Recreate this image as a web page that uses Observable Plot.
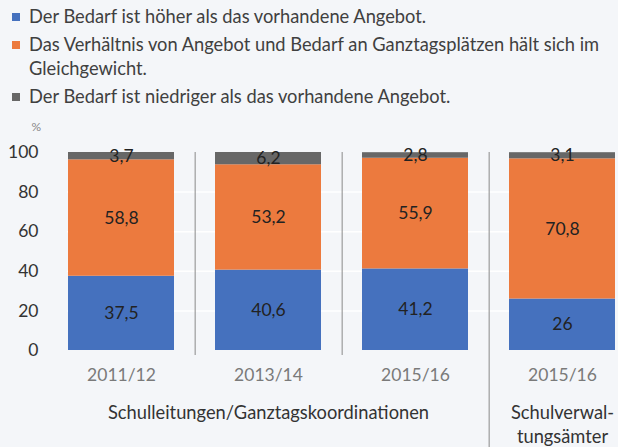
<!DOCTYPE html>
<html>
<head>
<meta charset="utf-8">
<script src="https://cdn.jsdelivr.net/npm/d3@7"></script>
<script src="https://cdn.jsdelivr.net/npm/@observablehq/plot@0.6"></script>
<style>
  html, body { margin: 0; padding: 0; background: #f4f6f9; }
  body { width: 618px; height: 447px; overflow: hidden; font-family: Lato, "Open Sans", sans-serif; }
  #legend { height: 108px; padding: 4px 0 0 0; box-sizing: border-box; color: #404040; font-size: 18.3px; }
  .item { display: flex; align-items: flex-start; line-height: 24px; margin-bottom: 4px; white-space: nowrap; }
  .sw { width: 8px; height: 8px; margin: 9px 9px 0 12px; flex: none; }
</style>
</head>
<body>
<div id="legend"></div>
<div id="chart"></div>
<script>
const seriesNames = [
  "Der Bedarf ist höher als das vorhandene Angebot.",
  "Das Verhältnis von Angebot und Bedarf an Ganztagsplätzen hält sich im\nGleichgewicht.",
  "Der Bedarf ist niedriger als das vorhandene Angebot."
];
const seriesColors = ["#4571be", "#ec7a3e", "#676767"];
const years = ["2011/12", "2013/14", "2015/16", "2015/16"];
const groupNames = ["Schulleitungen/Ganztagskoordinationen", "Schulverwal-\ntungsämter"];
const hoeher = [37.5, 40.6, 41.2, 26];
const gleich = [58.8, 53.2, 55.9, 70.8];
const niedriger = [3.7, 6.2, 2.8, 3.1];
const yTicks = [0, 20, 40, 60, 80, 100];

// legend
const legend = document.getElementById("legend");
seriesNames.forEach((n, i) => {
  const it = document.createElement("div");
  it.className = "item";
  const sw = document.createElement("span");
  sw.className = "sw";
  sw.style.background = seriesColors[i];
  const tx = document.createElement("span");
  tx.innerHTML = n.replace("\n", "<br>");
  it.appendChild(sw); it.appendChild(tx);
  legend.appendChild(it);
});

const valueSeries = [hoeher, gleich, niedriger];
const data = [];
years.forEach((y, i) => {
  valueSeries.forEach((vals, s) => {
    data.push({idx: i, series: seriesNames[s], s, value: vals[i]});
  });
});

const W = 618, H = 339, ML = 67, MR = 3, MT = 44, MB = 97;
const padIn = 0.28;
const step = (W - ML - MR) / (years.length - padIn);

// separators between bars: short ones within the first group, long one between the groups
const sepShort = [{idx: 0, lo: 0, hi: 100}, {idx: 1, lo: 0, hi: 100}];
const sepLong = [{idx: 2, lo: 0, hi: 100}];
// group labels placed at center of groups
const groupLabels = [
  {idx: 1, text: groupNames[0]},
  {idx: 3, text: groupNames[1]}
];

const plot = Plot.plot({
  width: W, height: H,
  marginLeft: ML, marginRight: MR, marginTop: MT, marginBottom: MB,
  style: {background: "transparent", fontFamily: "Lato, 'Open Sans', sans-serif", fontSize: "17px", color: "#333"},
  x: {domain: d3.range(years.length), paddingInner: padIn, paddingOuter: 0, label: null},
  y: {domain: [0, 100], ticks: yTicks, label: null},
  color: {domain: seriesNames, range: seriesColors},
  marks: [
    Plot.gridY(yTicks.filter(d => d > 0 && d < 100), {stroke: "#ffffff", strokeOpacity: 1, strokeWidth: 1.5}),
    Plot.axisY({ticks: yTicks, tickSize: 0, tickPadding: 29, fontSize: 17.5, fill: "#333", label: null}),
    Plot.axisX({tickSize: 0, tickPadding: 18, tickFormat: i => years[i], fontSize: 17.5, fill: "#7a7a7a", label: null}),
    Plot.ruleX(sepShort, {x: "idx", dx: step / 2, y1: "hi", y2: "lo", stroke: "#8a8a8a", strokeWidth: 1, insetBottom: -5}),
    Plot.ruleX(sepLong, {x: "idx", dx: step / 2, y1: "hi", y2: "lo", stroke: "#8a8a8a", strokeWidth: 1, insetBottom: -97}),
    Plot.barY(data, Plot.stackY({x: "idx", y: "value", fill: "series", order: null})),
    Plot.text(data, Plot.stackY({x: "idx", y: "value", text: d => String(d.value).replace(".", ","), order: null,
      fill: "#222", fontSize: 17.5})),
    Plot.text(groupLabels, {x: "idx", frameAnchor: "bottom", text: "text", dy: 52, fill: "#333", fontSize: 18.3, lineHeight: 1.3, lineAnchor: "top"}),
    Plot.text(["%"], {frameAnchor: "top-left", dx: -36, dy: -30, fill: "#888", fontSize: 12})
  ]
});
document.getElementById("chart").appendChild(plot);
</script>
</body>
</html>
